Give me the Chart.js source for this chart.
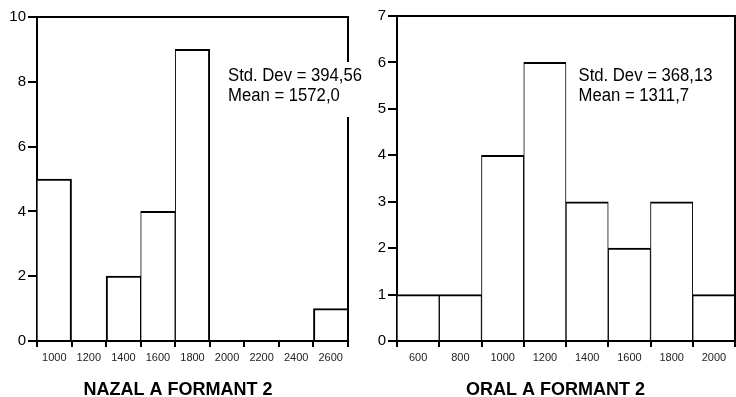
<!DOCTYPE html>
<html>
<head>
<meta charset="utf-8">
<script src="https://cdn.jsdelivr.net/npm/chart.js@4.4.1/dist/chart.umd.min.js"></script>
<style>
  html, body { margin: 0; padding: 0; background: #fff; }
  #wrap { position: relative; width: 736px; height: 397px; overflow: hidden; }
  canvas { position: absolute; top: 0; }
</style>
</head>
<body>
<div id="wrap">
  <canvas id="c1" width="368" height="397" style="left:0"></canvas>
  <canvas id="c2" width="368" height="397" style="left:368px"></canvas>
</div>
<script>
// ---- data ----
const nazalBins = ['1000', '1200', '1400', '1600', '1800', '2000', '2200', '2400', '2600'];
const nazalCounts = [5, 0, 2, 4, 9, 0, 0, 0, 1];
const nazalStats = ['Std. Dev = 394,56', 'Mean = 1572,0'];
const nazalTitle = 'NAZAL A FORMANT 2';

const oralBins = ['600', '800', '1000', '1200', '1400', '1600', '1800', '2000'];
const oralCounts = [1, 1, 4, 6, 3, 2, 3, 1];
const oralStats = ['Std. Dev = 368,13', 'Mean = 1311,7'];
const oralTitle = 'ORAL A FORMANT 2';

const FONT = '"Liberation Sans", Arial, Helvetica, sans-serif';

const framePlugin = {
  id: 'frameStats',
  afterDraw(chart, args, opts) {
    const ctx = chart.ctx;
    const a = chart.chartArea;
    ctx.save();
    // top + right frame
    ctx.strokeStyle = '#000';
    ctx.lineWidth = 2;
    ctx.beginPath();
    ctx.moveTo(a.left, a.top);
    ctx.lineTo(a.right, a.top);
    ctx.lineTo(a.right, a.bottom);
    ctx.stroke();
    // stats box
    const b = opts.box;
    ctx.fillStyle = '#fff';
    ctx.fillRect(b.x, b.y, b.w, b.h);
    ctx.fillStyle = '#000';
    ctx.font = '16.7px ' + FONT;
    ctx.textAlign = 'left';
    ctx.textBaseline = 'alphabetic';
    opts.lines.forEach((t, i) => {
      ctx.save();
      ctx.translate(opts.textX, opts.textY + i * opts.lineGap);
      ctx.scale(1, 1.05);
      ctx.fillText(t, 0, 0);
      ctx.restore();
    });
    // title
    ctx.font = 'bold 18px ' + FONT;
    ctx.textAlign = 'center';
    ctx.fillText(opts.title, opts.titleX, opts.titleY);
    ctx.restore();
  }
};

function barBorder(ctx) {
  const d = ctx.dataset.data;
  const i = ctx.dataIndex;
  const prev = i > 0 ? d[i - 1] : 1;
  const next = i < d.length - 1 ? d[i + 1] : 1;
  return { top: 2, left: prev > 0 ? 1 : 2, right: next > 0 ? 1 : 2, bottom: 0 };
}

function makeChart(id, labels, counts, yMax, yStep, yWidth, pad, stats) {
  return new Chart(document.getElementById(id), {
    type: 'bar',
    data: {
      labels: labels,
      datasets: [{
        data: counts,
        backgroundColor: '#fff',
        borderColor: '#000',
        borderWidth: barBorder,
        borderSkipped: 'bottom',
        categoryPercentage: 1.0,
        barPercentage: 1.0
      }]
    },
    options: {
      responsive: false,
      animation: false,
      devicePixelRatio: 1,
      layout: { padding: pad },
      plugins: {
        legend: { display: false },
        tooltip: { enabled: false },
        frameStats: stats
      },
      scales: {
        x: {
          offset: true,
          grid: { offset: true, drawOnChartArea: false, drawTicks: true, tickLength: 6, lineWidth: 2, color: '#000' },
          border: { display: true, color: '#000', width: 2 },
          ticks: { color: '#222', font: { family: FONT, size: 11 }, padding: 4, maxRotation: 0, autoSkip: false },
          afterFit(s) { s.height = 56; }
        },
        y: {
          min: 0, max: yMax,
          grid: { drawOnChartArea: false, drawTicks: true, tickLength: 9, lineWidth: 2, color: '#000' },
          border: { display: true, color: '#000', width: 2 },
          ticks: { stepSize: yStep, color: '#000', font: { family: FONT, size: 15 }, padding: 2 },
          afterFit(s) { s.width = yWidth; }
        }
      }
    },
    plugins: [framePlugin]
  });
}

makeChart('c1', nazalBins, nazalCounts, 10, 2, 37, { top: 17, right: 20, bottom: 0, left: 0 }, {
  lines: nazalStats, textX: 228, textY: 81, lineGap: 19.5,
  box: { x: 222, y: 62, w: 144, h: 55 },
  title: nazalTitle, titleX: 178, titleY: 395
});
makeChart('c2', oralBins, oralCounts, 7, 1, 29, { top: 16, right: 1, bottom: 0, left: 0 }, {
  lines: oralStats, textX: 210.5, textY: 81, lineGap: 19.5,
  box: { x: 205, y: 62, w: 144, h: 55 },
  title: oralTitle, titleX: 187.5, titleY: 395
});
</script>
</body>
</html>
